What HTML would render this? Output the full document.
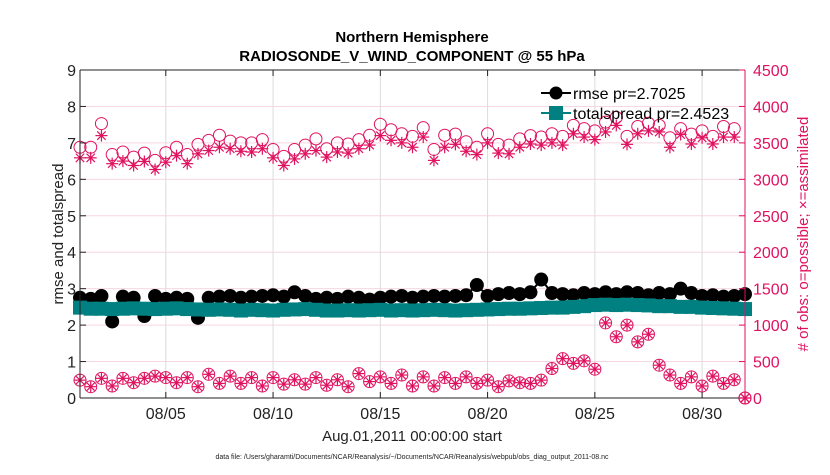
<!DOCTYPE html>
<html><head><meta charset="utf-8"><style>
body{margin:0;background:#fff;}
svg text{font-family:"Liberation Sans",Arial,sans-serif;}
</style></head><body>
<svg id="chart" width="830" height="470" xmlns="http://www.w3.org/2000/svg">
<rect width="830" height="470" fill="#fff"/>
<g id="grid"></g>
<g id="series"></g>
<g id="axes"></g>
<text x="412" y="42" text-anchor="middle" font-size="15" font-weight="bold">Northern Hemisphere</text>
<text x="412" y="61" text-anchor="middle" font-size="15" font-weight="bold">RADIOSONDE_V_WIND_COMPONENT @ 55 hPa</text>
<text x="412" y="441" text-anchor="middle" font-size="15" fill="#222">Aug.01,2011 00:00:00 start</text>
<text x="412" y="459" text-anchor="middle" font-size="7" fill="#222">data file: /Users/gharamti/Documents/NCAR/Reanalysis/~/Documents/NCAR/Reanalysis/webpub/obs_diag_output_2011-08.nc</text>
<text transform="translate(63,234) rotate(-90)" text-anchor="middle" font-size="15" fill="#222">rmse and totalspread</text>
<text transform="translate(808,234) rotate(-90)" text-anchor="middle" font-size="15" fill="#e0115f"># of obs: o=possible; ×=assimilated</text>
<g>
<line x1="541" y1="93" x2="571" y2="93" stroke="#000" stroke-width="2"/>
<circle cx="556" cy="93" r="6.5" fill="#000"/>
<text x="573" y="99" font-size="16">rmse pr=2.7025</text>
<line x1="541" y1="113" x2="571" y2="113" stroke="#008080" stroke-width="2"/>
<rect x="549" y="106" width="14" height="14" fill="#008080"/>
<text x="573" y="119" font-size="16">totalspread pr=2.4523</text>
</g>
</svg>
<script>
const xTickLabels=["08/05","08/10","08/15","08/20","08/25","08/30"];
const xTickDays=[5,10,15,20,25,30];
const leftTicks=[0,1,2,3,4,5,6,7,8,9];
const rightTicks=[0,500,1000,1500,2000,2500,3000,3500,4000,4500];
const rmse=[2.75,2.72,2.8,2.1,2.78,2.75,2.25,2.8,2.72,2.75,2.72,2.2,2.75,2.78,2.8,2.75,2.78,2.8,2.82,2.78,2.9,2.8,2.72,2.75,2.72,2.78,2.75,2.7,2.75,2.78,2.8,2.75,2.78,2.8,2.78,2.8,2.82,3.1,2.8,2.85,2.88,2.85,2.9,3.25,2.88,2.85,2.82,2.88,2.85,2.9,2.85,2.9,2.88,2.82,2.88,2.85,3.0,2.88,2.8,2.82,2.78,2.8,2.85];
const spread=[2.48,2.45,2.45,2.44,2.45,2.46,2.45,2.44,2.45,2.46,2.44,2.43,2.42,2.43,2.42,2.4,2.42,2.41,2.4,2.42,2.43,2.44,2.42,2.4,2.4,2.41,2.4,2.41,2.42,2.4,2.41,2.4,2.41,2.42,2.41,2.4,2.41,2.42,2.43,2.44,2.45,2.45,2.46,2.47,2.48,2.48,2.5,2.52,2.55,2.56,2.55,2.56,2.55,2.54,2.52,2.52,2.5,2.5,2.48,2.47,2.46,2.45,2.44];
const possible=[6.88,6.88,7.53,6.68,6.75,6.61,6.72,6.52,6.73,6.88,6.68,6.96,7.07,7.21,7.05,7.0,7.0,7.09,6.82,6.63,6.82,6.94,7.11,6.84,7.0,6.97,7.09,7.21,7.51,7.36,7.25,7.18,7.42,6.82,7.21,7.24,7.03,6.88,7.25,6.96,6.94,7.11,7.2,7.16,7.25,7.18,7.48,7.39,7.33,7.57,7.7,7.18,7.45,7.54,7.48,7.14,7.39,7.24,7.33,7.18,7.45,7.39,0].map(v=>v*500);
const assimilated=[6.59,6.59,7.2,6.43,6.5,6.38,6.49,6.27,6.47,6.65,6.43,6.7,6.79,6.88,6.84,6.77,6.75,6.84,6.59,6.38,6.56,6.7,6.79,6.61,6.75,6.72,6.84,6.94,7.2,7.07,7.0,6.88,7.16,6.52,6.88,6.96,6.77,6.68,7.0,6.72,6.7,6.88,6.97,6.94,7.0,6.94,7.25,7.16,7.09,7.3,7.48,6.96,7.25,7.33,7.3,6.88,7.23,6.97,7.14,6.97,7.16,7.16,0].map(v=>v*500);
const lowCount=[0.49,0.31,0.54,0.33,0.54,0.42,0.54,0.6,0.56,0.42,0.56,0.31,0.65,0.4,0.6,0.4,0.56,0.33,0.56,0.38,0.5,0.38,0.56,0.35,0.5,0.31,0.67,0.45,0.58,0.4,0.63,0.33,0.58,0.33,0.56,0.4,0.58,0.4,0.49,0.31,0.47,0.42,0.4,0.49,0.81,1.08,0.95,1.02,0.79,2.06,1.68,2.0,1.54,1.75,0.9,0.63,0.4,0.58,0.33,0.6,0.4,0.5,0].map(v=>v*500);

const X0=80,X1=745,Y0=398,Y1=70,D0=1,D1=32;
const xs=d=>X0+(d-D0)/(D1-D0)*(X1-X0);
const yL=v=>Y0-v/9*(Y0-Y1);
const yR=v=>Y0-v/4500*(Y0-Y1);
const dayOf=(i,n)=>D0+i*(D1-D0)/(n-1);
const NS="http://www.w3.org/2000/svg";
function mk(tag,attrs,parent){const e=document.createElementNS(NS,tag);for(const k in attrs)e.setAttribute(k,attrs[k]);parent.appendChild(e);return e;}
const grid=document.getElementById('grid'),ser=document.getElementById('series'),ax=document.getElementById('axes');
const PINK="#e0115f";
leftTicks.forEach(t=>{if(t>0&&t<9){const l=mk('line',{x1:X0,x2:X1,y1:yL(t),y2:yL(t),stroke:'#f6d6e2','stroke-width':1},grid);

}});
xTickDays.forEach(d=>{const l=mk('line',{x1:xs(d),x2:xs(d),y1:Y1,y2:Y0,stroke:'#dcdcdc','stroke-width':1},grid);

});
function line(arr,f,color,w,name){const n=arr.length;const p=mk('polyline',{points:arr.map((v,i)=>xs(dayOf(i,n))+','+f(v)).join(' '),fill:'none',stroke:color,'stroke-width':w},ser);

}
line(rmse,yL,'#000',2,'rmse-line');
rmse.forEach((v,i)=>{const c=mk('circle',{cx:xs(dayOf(i,rmse.length)),cy:yL(v),r:7,fill:'#000'},ser);

});
line(spread,yL,'#008080',2,'totalspread-line');
spread.forEach((v,i)=>{const r=mk('rect',{x:xs(dayOf(i,spread.length))-7,y:yL(v)-7,width:14,height:14,fill:'#008080'},ser);

});
function star(cx,cy,s,name){const g=mk('g',{stroke:PINK,'stroke-width':1.2},ser);


mk('line',{x1:cx-s,x2:cx+s,y1:cy,y2:cy},g);mk('line',{x1:cx,x2:cx,y1:cy-s,y2:cy+s},g);
const d=s*0.7;mk('line',{x1:cx-d,x2:cx+d,y1:cy-d,y2:cy+d},g);mk('line',{x1:cx-d,x2:cx+d,y1:cy+d,y2:cy-d},g);}
function circ(cx,cy,name){const c=mk('circle',{cx:cx,cy:cy,r:6,fill:'none',stroke:PINK,'stroke-width':1},ser);

}
possible.forEach((v,i)=>circ(xs(dayOf(i,possible.length)),yR(v),'possible-obs-point'));
assimilated.forEach((v,i)=>star(xs(dayOf(i,assimilated.length)),yR(v),6,'assimilated-obs-point'));
lowCount.forEach((v,i)=>{const x=xs(dayOf(i,lowCount.length));circ(x,yR(v),'low-obs-possible-point');star(x,yR(v),5.5,'low-obs-assimilated-point');});
const a1=mk('line',{x1:X0,x2:X0,y1:Y1,y2:Y0,stroke:'#222','stroke-width':1},ax);


const a2=mk('line',{x1:X0,x2:X1,y1:Y0,y2:Y0,stroke:'#222','stroke-width':1},ax);


const a3=mk('line',{x1:X0,x2:X1,y1:Y1,y2:Y1,stroke:'#222','stroke-width':1},ax);


const a4=mk('line',{x1:X1,x2:X1,y1:Y1,y2:Y0,stroke:PINK,'stroke-width':1},ax);


leftTicks.forEach(t=>{mk('line',{x1:X0,x2:X0+6,y1:yL(t),y2:yL(t),stroke:'#222'},ax);
const tx=mk('text',{x:X0-4,y:yL(t)+6,'text-anchor':'end','font-size':16,fill:'#222'},ax);tx.textContent=t;

});
rightTicks.forEach(t=>{mk('line',{x1:X1-6,x2:X1,y1:yR(t),y2:yR(t),stroke:PINK},ax);
const tx=mk('text',{x:X1+8,y:yR(t)+6,'text-anchor':'start','font-size':16,fill:PINK},ax);tx.textContent=t;

});
xTickDays.forEach((d,i)=>{mk('line',{x1:xs(d),x2:xs(d),y1:Y0,y2:Y0-6,stroke:'#222'},ax);mk('line',{x1:xs(d),x2:xs(d),y1:Y1,y2:Y1+6,stroke:'#222'},ax);
const tx=mk('text',{x:xs(d),y:Y0+21,'text-anchor':'middle','font-size':16,fill:'#222'},ax);tx.textContent=xTickLabels[i];

});
</script>
</body></html>
